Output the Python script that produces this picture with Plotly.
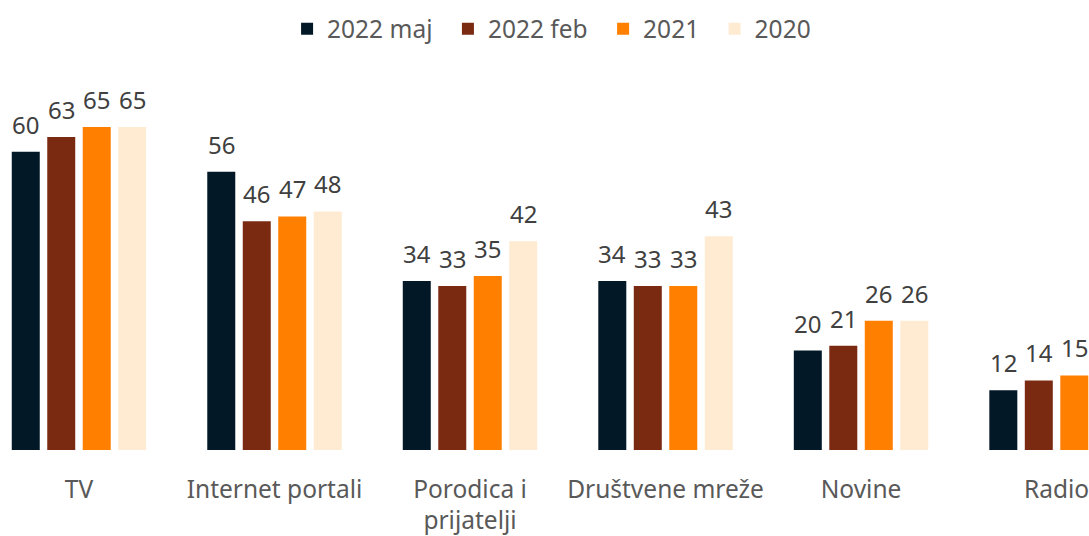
import plotly.graph_objects as go

categories = ["TV", "Internet portali", "Porodica i<br>prijatelji", "Društvene mreže", "Novine", "Radio"]
series_names = ["2022 maj", "2022 feb", "2021", "2020"]
maj_2022 = [60, 56, 34, 34, 20, 12]
feb_2022 = [63, 46, 33, 33, 21, 14]
y_2021 = [65, 47, 35, 33, 26, 15]
y_2020 = [65, 48, 42, 43, 26, 15]
colors = ["#021826", "#7B2A12", "#FF7F00", "#FFEBD1"]

values = [maj_2022, feb_2022, y_2021, y_2020]

FONT = "Noto Sans"
fig = go.Figure()
for i, (name, vals, col) in enumerate(zip(series_names, values, colors)):
    pad = "\u00a0\u202f" if i < len(series_names) - 1 else ""
    fig.add_trace(go.Bar(x=categories, y=vals, name=name + pad, marker=dict(color=col, line=dict(width=0))))

offsets = [-53.25, -17.75, 17.75, 53.25]
for k, vals in enumerate(values):
    for cat, v in zip(categories, vals):
        fig.add_annotation(x=cat, y=v, xref="x", yref="y", text=str(v), showarrow=False,
                           xshift=offsets[k], yshift=9, yanchor="bottom",
                           font=dict(family=FONT, size=24, color="#404040"))

fig.update_layout(
    width=1089, height=536,
    margin=dict(l=0, r=0, t=0, b=86),
    barmode="group", bargap=0.274, bargroupgap=0.211,
    plot_bgcolor="white", paper_bgcolor="white",
    font=dict(family=FONT, color="#595959"),
    legend=dict(orientation="h", x=0.5065, xanchor="center", y=0.936, yanchor="middle",
                font=dict(family=FONT, size=24.5, color="#595959"), bgcolor="rgba(0,0,0,0)"),
    xaxis=dict(range=[-0.404, 5.166], showline=False, showgrid=False, zeroline=False,
               tickfont=dict(family=FONT, size=24.5, color="#595959"), ticklabelstandoff=22),
    yaxis=dict(range=[0, 90.54], visible=False),
)
fig.write_html("out.html", config={"displayModeBar": False},
               post_script="document.body.style.margin='0';document.body.style.padding='0';")
